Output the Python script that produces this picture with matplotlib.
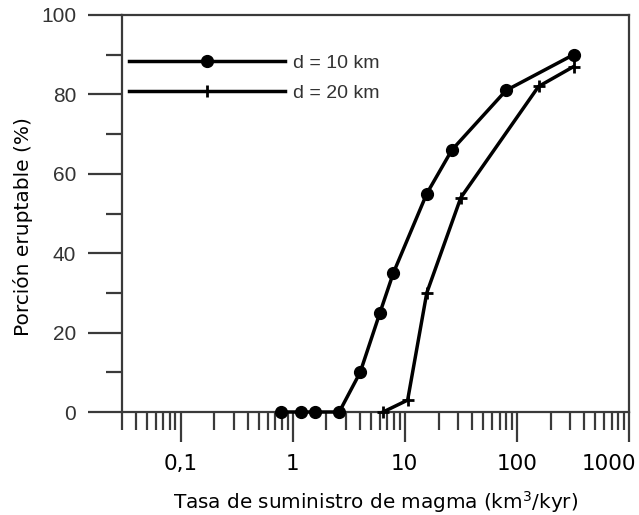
import numpy as np
import matplotlib
matplotlib.use("Agg")
import matplotlib.pyplot as plt
import matplotlib.transforms as mtransforms

# d = 10 km (circles)
rate_10 = [0.78, 1.18, 1.59, 2.6, 4.0, 6.0, 7.9, 15.7, 26.3, 80, 320]
frac_10 = [0, 0, 0, 0, 10, 25, 35, 55, 66, 81, 90]

# d = 20 km (crosses)
rate_20 = [6.4, 10.6, 15.7, 31.6, 156, 320]
frac_20 = [0, 3, 30, 54, 82, 87]

xticks = [0.1, 1, 10, 100, 1000]
xtick_labels = ["0,1", "1", "10", "100", "1000"]
yticks = [0, 20, 40, 60, 80, 100]

spine_col = "#3a3a3a"

fig = plt.figure(figsize=(6.39, 5.15), dpi=100)
ax = fig.add_axes([122 / 639, 103 / 515, 507 / 639, 397 / 515])

ax.plot(rate_10, frac_10, color="black", lw=2.5, marker="o", ms=8.5,
        label="d = 10 km", clip_on=False, zorder=3)
ax.plot(rate_20, frac_20, color="black", lw=2.5, marker="+", ms=9, mew=2,
        label="d = 20 km", clip_on=False, zorder=3)

ax.set_xscale("log")
ax.set_xlim(0.03, 1000)
ax.set_ylim(0, 100)

for s in ax.spines.values():
    s.set_color(spine_col)
    s.set_linewidth(1.6)

ax.set_xticks(xticks)
ax.set_xticklabels(xtick_labels, fontsize=15.5, family="DejaVu Sans")
ax.xaxis.set_minor_locator(matplotlib.ticker.LogLocator(base=10, subs=np.arange(2, 10)))
ax.xaxis.set_minor_formatter(matplotlib.ticker.NullFormatter())
ax.tick_params(axis="x", which="major", direction="out", length=21.5, width=1.6,
               color=spine_col, pad=9)
ax.tick_params(axis="x", which="minor", direction="out", length=13, width=1.6,
               color=spine_col)

ax.set_yticks(yticks)
ax.set_yticklabels([str(v) for v in yticks], fontsize=15, family="Liberation Sans",
                   color="#333333")
ax.yaxis.set_minor_locator(matplotlib.ticker.MultipleLocator(10))
ax.tick_params(axis="y", which="major", direction="out", length=24.5, width=1.6,
               color=spine_col, pad=8.5)
ax.tick_params(axis="y", which="minor", direction="out", length=11.5, width=1.6,
               color=spine_col)

# keep the last x label inside the figure
lbl = ax.get_xticklabels()[-1]
lbl.set_transform(lbl.get_transform() + mtransforms.ScaledTranslation(-20 / 100, 0, fig.dpi_scale_trans))

fig.text(376 / 639, 1 - 502 / 515, "Tasa de suministro de magma (km$^3$/kyr)",
         ha="center", va="center", fontsize=14.4, family="DejaVu Sans")
fig.text(23 / 639, 1 - 227 / 515, "Porción eruptable (%)", rotation=90,
         ha="center", va="center", fontsize=14.5, family="DejaVu Sans")

leg = ax.legend(loc="upper left", bbox_to_anchor=(7 / 507, (412 - 54) / 397), frameon=False,
                handlelength=8.0, handletextpad=0.42, labelspacing=0.66,
                borderaxespad=0, borderpad=0,
                prop={"family": "Liberation Sans", "size": 14})
for t in leg.get_texts():
    t.set_color("#333333")

fig.savefig("out.png", dpi=100)
